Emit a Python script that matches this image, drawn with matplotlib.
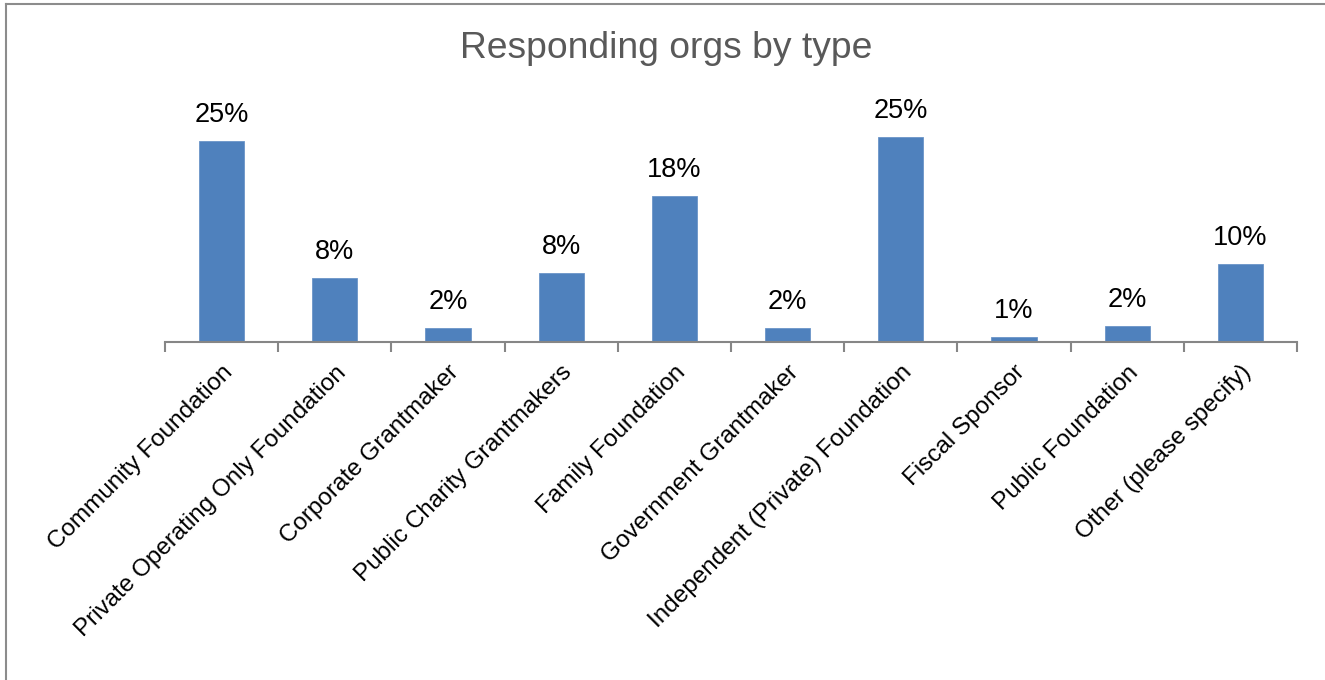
import matplotlib
matplotlib.use("Agg")
import matplotlib.pyplot as plt
from matplotlib.lines import Line2D
from matplotlib.ticker import FixedLocator

categories = [
    "Community Foundation",
    "Private Operating Only Foundation",
    "Corporate Grantmaker",
    "Public Charity Grantmakers",
    "Family Foundation",
    "Government Grantmaker",
    "Independent (Private) Foundation",
    "Fiscal Sponsor",
    "Public Foundation",
    "Other (please specify)",
]
shares = [0.246, 0.078, 0.017, 0.084, 0.179, 0.017, 0.251, 0.006, 0.019, 0.095]
title = "Responding orgs by type"

plt.rcParams["font.family"] = ["Liberation Sans", "DejaVu Sans"]

W, H = 1325, 680
fig = plt.figure(figsize=(W / 100, H / 100), dpi=100)
fig.patch.set_facecolor("white")

# chart frame (left and top edges)
frame_color = "#8c8c8c"
fig.add_artist(Line2D([6 / W, 6 / W], [0, 1 - 4 / H], transform=fig.transFigure,
                      color=frame_color, lw=1.5))
fig.add_artist(Line2D([6 / W, 1], [1 - 4 / H, 1 - 4 / H], transform=fig.transFigure,
                      color=frame_color, lw=1.5))

left, right = 165 / W, 1297 / W
bottom = (H - 342) / H
height = 245 / H
ax = fig.add_axes([left, bottom, right - left, height])

x = list(range(len(categories)))
bars = ax.bar(x, shares, width=0.4, color="#4F81BD", edgecolor="#6b95c8", linewidth=0.6,
              zorder=2)

for rect, v in zip(bars, shares):
    ax.annotate(f"{v:.0%}", (rect.get_x() + rect.get_width() / 2, v),
                xytext=(0, 13), textcoords="offset pixels", ha="center", va="bottom",
                fontsize=19.5, color="black")

ax.set_xlim(-0.5, len(categories) - 0.5)
ax.set_ylim(0, 0.30)

for s in ("top", "right", "left"):
    ax.spines[s].set_visible(False)
ax.spines["bottom"].set_color("#868686")
ax.spines["bottom"].set_linewidth(1.5)
ax.set_yticks([])

ax.set_xticks(x)
ax.set_xticklabels(categories, rotation=45, ha="right", va="top",
                   rotation_mode="anchor", fontsize=17.5)
ax.tick_params(axis="x", which="major", length=0, pad=14)
ax.xaxis.set_minor_locator(FixedLocator([i - 0.5 for i in range(len(categories) + 1)]))
ax.tick_params(axis="x", which="minor", length=7, width=1.5, color="#868686",
               direction="out")

fig.text(666 / W, 1 - 48 / H, title, ha="center", va="center", fontsize=26.8,
         color="#595959")

fig.savefig("out.png", dpi=100, facecolor="white")
